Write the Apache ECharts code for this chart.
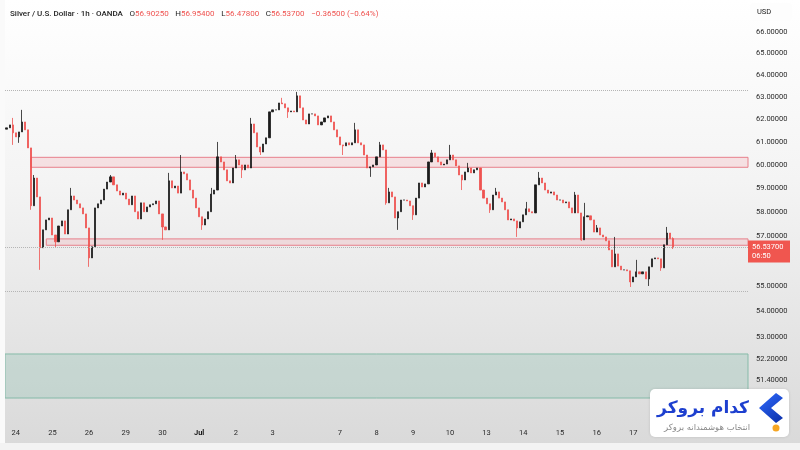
<!DOCTYPE html>
<html>
<head>
<meta charset="utf-8">
<script src="https://cdn.jsdelivr.net/npm/echarts@6/dist/echarts.min.js"></script>
<style>
html, body { margin: 0; padding: 0; background: #fff; }
#chart { width: 800px; height: 450px; }
</style>
</head>
<body>
<div id="chart"></div>
<script>
// closes, one candle every 2 hours
var closes = [
  61.61, 61.74, 61.39, 61.21, 61.43, 61.87, 61.52, 60.73, 58.26, 59.43,
  58.63, 56.53, 57.26, 57.67, 57.75, 57.05, 56.77, 57.42, 57.63, 57.09,
  58.09, 58.67, 58.50, 58.34, 58.17, 57.92, 57.34, 56.12, 56.57, 58.17,
  58.34, 58.50, 58.96, 59.26, 59.48, 59.14, 58.88, 58.71, 58.79, 58.54,
  58.30, 58.67, 58.01, 57.71, 58.38, 58.01, 58.21, 58.30, 58.34, 58.46,
  57.92, 57.38, 57.26, 59.31, 59.01, 59.09, 58.79, 59.69, 59.61, 59.35,
  58.92, 58.58, 58.17, 57.80, 57.46, 57.71, 58.01, 58.75, 58.92, 60.34,
  60.12, 59.78, 59.31, 59.22, 59.86, 60.21, 59.99, 59.78, 59.99, 59.86,
  61.78, 61.39, 60.77, 60.55, 60.90, 61.17, 62.32, 62.41, 62.41, 62.72,
  62.68, 62.50, 62.32, 62.36, 62.32, 63.04, 62.50, 61.96, 61.78, 62.23,
  62.23, 62.14, 61.74, 61.87, 62.05, 62.14, 61.87, 61.52, 61.21, 60.86,
  60.82, 60.95, 60.86, 60.95, 61.52, 60.95, 60.86, 60.42, 59.86, 59.91,
  59.99, 60.34, 60.86, 60.64, 58.38, 58.84, 58.63, 57.75, 58.01, 58.50,
  58.50, 58.46, 58.26, 57.88, 58.58, 59.22, 59.05, 59.18, 60.12, 60.51,
  60.34, 60.12, 59.99, 60.03, 60.21, 60.42, 60.21, 59.95, 59.56, 59.35,
  59.69, 59.86, 59.65, 59.78, 59.86, 58.92, 58.58, 58.34, 58.09, 58.71,
  58.84, 58.58, 58.42, 58.09, 57.67, 57.71, 57.63, 57.34, 57.59, 57.88,
  58.13, 58.01, 57.96, 59.14, 59.43, 59.22, 58.92, 58.79, 58.84, 58.71,
  58.50, 58.50, 58.38, 58.42, 58.17, 57.96, 58.71, 57.96, 56.85, 57.80,
  57.84, 57.67, 57.17, 57.34, 57.05, 56.97, 56.81, 56.44, 55.76, 56.28,
  55.79, 55.64, 55.64, 55.60, 55.16, 55.36, 55.56, 55.48, 55.56, 55.28,
  55.76, 56.08, 56.12, 56.08, 55.72, 56.65, 57.13, 56.9025, 56.537
];
var firstOpen = 61.55;
// long wicks [candle index, price]
var wickHighs = [[2, 62.05], [5, 62.41], [9, 59.56], [21, 59.01], [34, 59.56], [53, 59.65], [57, 60.42],
  [67, 59.01], [69, 60.99], [75, 60.42], [80, 62.05], [90, 62.95], [95, 63.22], [114, 61.83], [122, 60.99],
  [125, 59.01], [139, 60.64], [145, 60.86], [151, 60.08], [160, 59.01], [170, 58.42], [174, 59.69],
  [186, 58.84], [189, 58.38], [193, 57.46], [199, 56.97], [206, 56.04], [216, 57.38], [218, 56.954]];
var wickLows = [[2, 60.86], [4, 60.95], [8, 58.09], [11, 55.64], [16, 56.53], [27, 55.76], [51, 56.85],
  [64, 57.26], [77, 59.43], [83, 60.42], [92, 62.05], [110, 60.42], [119, 59.48], [124, 58.30], [128, 57.26],
  [133, 57.67], [149, 58.92], [158, 57.96], [167, 56.97], [188, 56.81], [204, 54.96], [210, 55.00],
  [214, 55.60], [218, 56.478]];

// day labels and the candle where each session starts
var dayNames = ['24', '25', '26', '29', '30', 'Jul', '2', '3', '7', '8', '9', '10', '13', '14', '15', '16', '17'];
var dayStarts = [3, 15, 27, 39, 51, 63, 75, 87, 109, 121, 133, 145, 157, 169, 181, 193, 205];
var slotCount = 243;

var priceTicks = [66, 65, 64, 63, 62, 61, 60, 59, 58, 57, 55, 54, 53, 52.2, 51.4];
var upperZone = [60.32, 59.89];
var lowerZone = [56.89, 56.63];
var greenZone = [52.38, 50.75];
var refLines = [63.31, 54.80];
var priceMin = 49.92, priceMax = 67.53;
var lastPrice = 56.537;
var countdown = '06:50';
var changeText = '\u22120.36500 (\u22120.64%)';

// build candles in log space (log price scale)
var hiMap = {}, loMap = {};
wickHighs.forEach(function (w) { hiMap[w[0]] = w[1]; });
wickLows.forEach(function (w) { loMap[w[0]] = w[1]; });
var ohlc = [];
for (var i = 0; i < closes.length; i++) {
  var o = i === 0 ? firstOpen : closes[i - 1];
  var c = closes[i];
  var h = Math.max(o, c, hiMap[i] || 0);
  var l = Math.min(o, c, loMap[i] || 1e9);
  ohlc.push([Math.log(o), Math.log(c), Math.log(l), Math.log(h)]);
}
var cats = [];
for (var k = 0; k < slotCount; k++) cats.push('k' + k);
var labelAt = {};
dayStarts.forEach(function (s, j) { labelAt[s] = dayNames[j]; });

var last = ohlc[ohlc.length - 1];
var fmt = function (v) { return v.toFixed(5); };

var option = {
  animation: false,
  backgroundColor: new echarts.graphic.LinearGradient(0, 0, 0, 1, [
    { offset: 0, color: '#ffffff' },
    { offset: 0.4, color: '#f4f4f4' },
    { offset: 1, color: '#d9d9d9' }
  ]),
  grid: { left: 5, right: 52, top: 0, bottom: 29 },
  xAxis: {
    type: 'category',
    data: cats,
    boundaryGap: true,
    axisLine: { show: false },
    axisTick: { show: false },
    splitLine: { show: false },
    axisLabel: {
      interval: function (idx) { return labelAt[idx] !== undefined; },
      formatter: function (v, idx) {
        var t = labelAt[idx] || '';
        return t === 'Jul' ? '{b|' + t + '}' : t;
      },
      color: '#2a2a2a',
      fontSize: 7.5,
      fontFamily: 'Roboto',
      margin: 8,
      rich: { b: { fontWeight: 'bold', fontSize: 7.5, color: '#1a1a1a', fontFamily: 'Roboto' } }
    }
  },
  yAxis: {
    type: 'value',
    position: 'right',
    min: Math.log(priceMin),
    max: Math.log(priceMax),
    axisLine: { show: false },
    axisTick: { show: false },
    splitLine: { show: false },
    axisLabel: {
      customValues: priceTicks.map(Math.log),
      formatter: function (v) { return fmt(Math.exp(v)); },
      color: '#2a2a2a',
      fontSize: 7.5,
      fontFamily: 'Roboto',
      align: 'left',
      margin: 8
    }
  },
  series: [{
    type: 'candlestick',
    data: ohlc,
    barWidth: 1.6,
    itemStyle: {
      color: '#1c1c1c', color0: '#ef5350',
      borderColor: '#1c1c1c', borderColor0: '#ef5350',
      borderWidth: 0.8
    },
    markArea: {
      silent: true,
      data: [
        [{ xAxis: 'k8', yAxis: Math.log(upperZone[0]),
           itemStyle: { color: 'rgba(242,54,69,0.11)', borderColor: '#e8808b', borderWidth: 1 } },
         { yAxis: Math.log(upperZone[1]) }],
        [{ xAxis: 'k13', yAxis: Math.log(lowerZone[0]),
           itemStyle: { color: 'rgba(242,54,69,0.11)', borderColor: '#e8808b', borderWidth: 1 } },
         { yAxis: Math.log(lowerZone[1]) }],
        [{ yAxis: Math.log(greenZone[0]),
           itemStyle: { color: 'rgba(120,185,165,0.25)', borderColor: '#86bba9', borderWidth: 1 } },
         { yAxis: Math.log(greenZone[1]) }]
      ]
    },
    markLine: {
      silent: true,
      precision: 8,
      symbol: ['none', 'none'],
      label: { show: false },
      lineStyle: { color: '#b5b5b5', type: 'dotted', width: 1 },
      data: refLines.concat([lastPrice]).map(function (p) { return { yAxis: Math.log(p) }; })
    }
  }],
  graphic: [
    { type: 'rect', left: 0, top: 0, shape: { width: 5, height: 450 }, style: { fill: '#fafafa' }, z: 10 },
    { type: 'rect', left: 0, top: 443, shape: { width: 800, height: 7 }, style: { fill: '#f3f3f3' }, z: 10 },
    {
      type: 'text', left: 10, top: 8, z: 20,
      style: {
        text: '{t|Silver / U.S. Dollar \u00b7 1h \u00b7 OANDA}  {k|O}{v|' + fmt(Math.exp(last[0])) +
              '}  {k|H}{v|' + fmt(Math.exp(last[3])) + '}  {k|L}{v|' + fmt(Math.exp(last[2])) +
              '}  {k|C}{v|' + fmt(Math.exp(last[1])) + '}  {v|' + changeText + '}',
        rich: {
          t: { fill: '#1e1e1e', fontSize: 8, fontFamily: 'Roboto', fontWeight: 500 },
          k: { fill: '#1e1e1e', fontSize: 8, fontFamily: 'Roboto' },
          v: { fill: '#ef5350', fontSize: 8, fontFamily: 'Roboto' }
        }
      }
    },
    { type: 'rect', left: 750, top: 3, z: 20, shape: { width: 42, height: 18, r: 3 }, style: { fill: '#fdfdfd' } },
    { type: 'text', left: 757, top: 8, z: 21, style: { text: 'USD', fill: '#222', fontSize: 7.5, fontFamily: 'Roboto' } },
    // logo
    { type: 'rect', left: 650, top: 389, z: 30, shape: { width: 139, height: 48, r: 5 },
      style: { fill: '#ffffff', shadowBlur: 3, shadowColor: 'rgba(0,0,0,0.12)' } },
    { type: 'text', z: 31, x: 749, y: 409,
      style: { text: '\u06a9\u062f\u0627\u0645 \u0628\u0631\u0648\u06a9\u0631', fill: '#1d3fcf', fontSize: 17,
               fontWeight: 'bold', fontFamily: 'DejaVu Sans', align: 'right', verticalAlign: 'middle' } },
    { type: 'text', z: 31, x: 750, y: 428,
      style: { text: '\u0627\u0646\u062a\u062e\u0627\u0628 \u0647\u0648\u0634\u0645\u0646\u062f\u0627\u0646\u0647 \u0628\u0631\u0648\u06a9\u0631',
               fill: '#8a8a8a', fontSize: 8.5, fontFamily: 'DejaVu Sans', align: 'right', verticalAlign: 'middle' } },
    { type: 'polygon', z: 31,
      shape: { points: [[776, 393], [759, 408], [776, 423], [783, 418], [771, 408], [783, 398]] },
      style: { fill: new echarts.graphic.LinearGradient(0, 0, 1, 1, [
        { offset: 0, color: '#2f6bff' }, { offset: 1, color: '#0b2fa8' }]) } },
    { type: 'circle', z: 31, shape: { cx: 776, cy: 428, r: 3.5 }, style: { fill: '#f6a623' } }
  ]
};

var chart = echarts.init(document.getElementById('chart'));
chart.setOption(option);

// last price tag on the price scale
var py = chart.convertToPixel({ yAxisIndex: 0 }, Math.log(lastPrice));
chart.setOption({
  graphic: [
    { id: 'tag', type: 'rect', left: 748, top: py - 7, z: 25, shape: { width: 42, height: 22 }, style: { fill: '#f0564f' } },
    { id: 'tagp', type: 'text', left: 752, top: py - 4.5, z: 26,
      style: { text: fmt(lastPrice), fill: '#fff', fontSize: 7.5, fontFamily: 'Roboto' } },
    { id: 'tagc', type: 'text', left: 752, top: py + 5, z: 26,
      style: { text: countdown, fill: '#fff', fontSize: 7.5, fontFamily: 'Roboto' } }
  ]
});
</script>
</body>
</html>
